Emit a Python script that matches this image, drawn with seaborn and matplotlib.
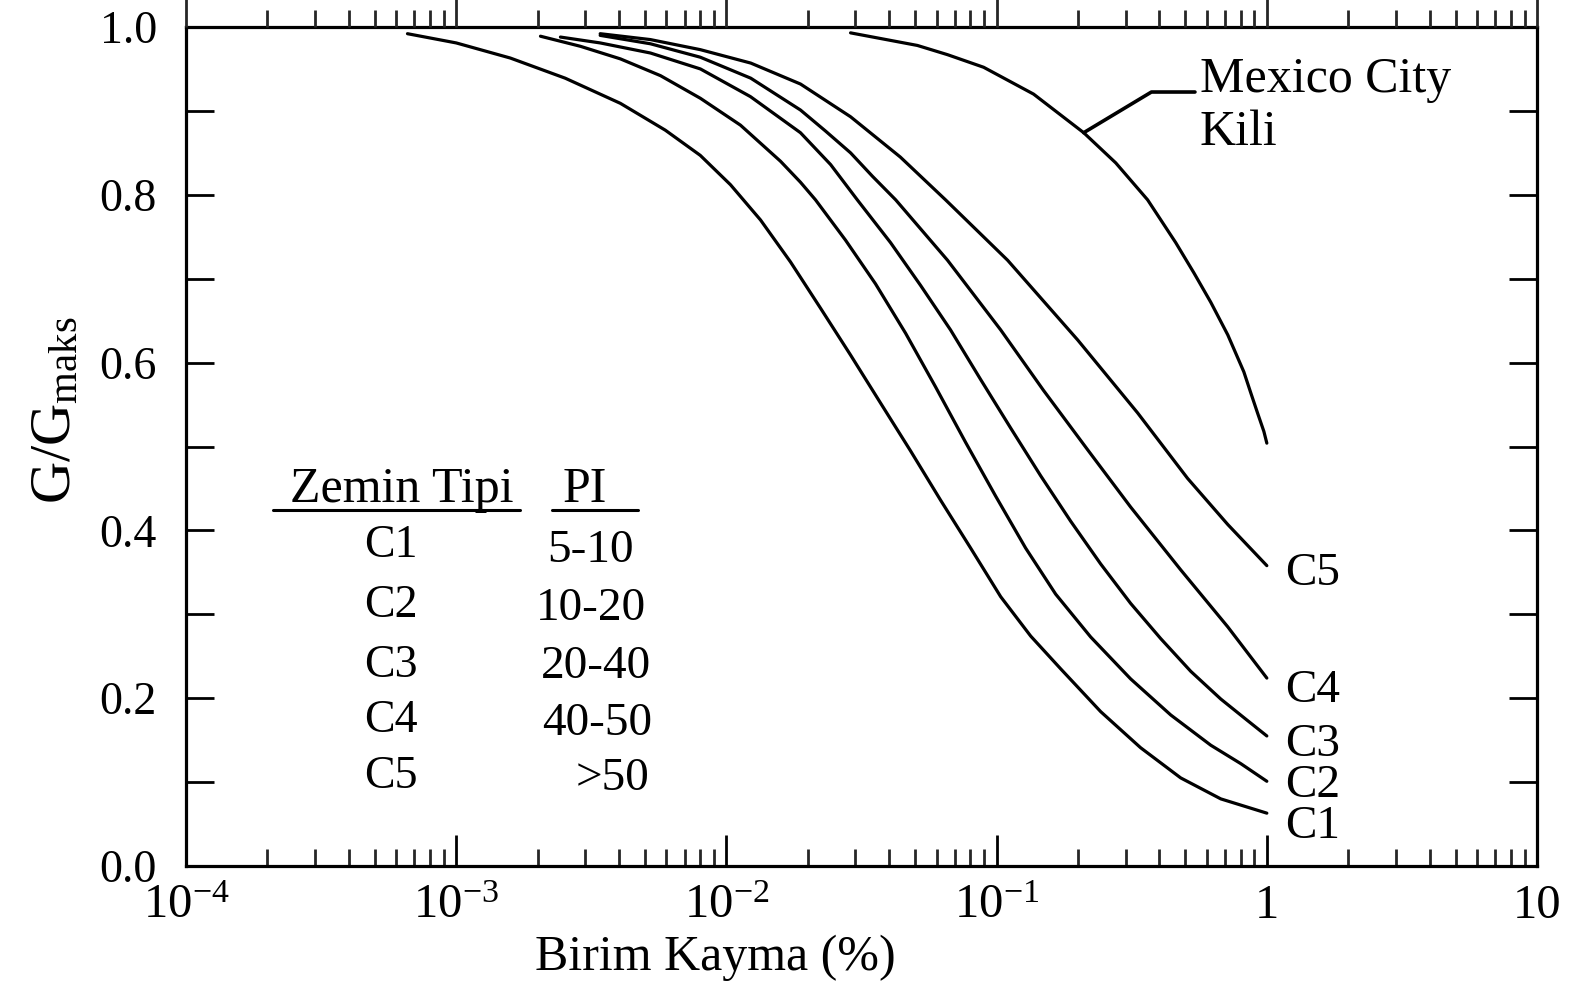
import numpy as np
import pandas as pd
import matplotlib
matplotlib.use("Agg")
import matplotlib.pyplot as plt
from matplotlib.ticker import FixedLocator, FixedFormatter, MultipleLocator, NullFormatter
import seaborn as sns

# Shear strain (%) and normalised shear modulus for each clay curve
c1_strain = [6.6e-4, 1.0e-3, 1.585e-3, 2.53e-3, 4.05e-3, 5.94e-3, 8.0e-3, 1.035e-2,
             1.337e-2, 1.726e-2, 2.228e-2, 2.88e-2, 3.715e-2, 4.797e-2, 6.203e-2,
             8.01e-2, 0.1035, 0.1337, 0.1726, 0.2427, 0.341, 0.480, 0.6755, 1.0]
c1_g = [0.992, 0.981, 0.963, 0.939, 0.909, 0.877, 0.847, 0.812, 0.770, 0.720, 0.665,
        0.609, 0.552, 0.495, 0.436, 0.379, 0.321, 0.274, 0.235, 0.184, 0.141, 0.105,
        0.080, 0.063]

c2_strain = [2.05e-3, 2.88e-3, 4.05e-3, 5.70e-3, 8.01e-3, 1.127e-2, 1.585e-2, 1.879e-2,
             2.136e-2, 2.758e-2, 3.56e-2, 4.603e-2, 5.943e-2, 7.674e-2, 9.91e-2, 0.128,
             0.1654, 0.2228, 0.3133, 0.441, 0.620, 0.801, 1.0]
c2_g = [0.989, 0.977, 0.962, 0.942, 0.915, 0.883, 0.840, 0.815, 0.794, 0.746, 0.694,
        0.635, 0.571, 0.505, 0.441, 0.379, 0.324, 0.273, 0.223, 0.180, 0.144, 0.122,
        0.101]

c3_strain = [2.43e-3, 3.41e-3, 5.23e-3, 8.01e-3, 1.227e-2, 1.879e-2, 2.43e-2, 3.05e-2,
             4.049e-2, 5.23e-2, 6.75e-2, 8.72e-2, 0.1127, 0.1456, 0.1879, 0.2427,
             0.3133, 0.4049, 0.5231, 0.6755, 0.836, 1.0]
c3_g = [0.988, 0.981, 0.969, 0.950, 0.917, 0.874, 0.836, 0.794, 0.743, 0.692, 0.639,
        0.580, 0.522, 0.465, 0.411, 0.360, 0.313, 0.271, 0.232, 0.199, 0.175, 0.155]

c4_strain = [3.41e-3, 5.23e-3, 8.0e-3, 1.23e-2, 1.88e-2, 2.326e-2, 2.88e-2, 3.472e-2,
             4.23e-2, 6.58e-2, 0.1035, 0.149, 0.2173, 0.313, 0.480, 0.717, 1.0]
c4_g = [0.990, 0.980, 0.964, 0.939, 0.901, 0.876, 0.850, 0.822, 0.794, 0.722, 0.639,
        0.567, 0.496, 0.428, 0.353, 0.285, 0.224]

c5_strain = [3.41e-3, 5.23e-3, 8.0e-3, 1.23e-2, 1.88e-2, 2.88e-2, 4.40e-2, 6.47e-2,
             0.1098, 0.1995, 0.3326, 0.509, 0.717, 1.0]
c5_g = [0.992, 0.985, 0.973, 0.957, 0.932, 0.893, 0.845, 0.794, 0.722, 0.627, 0.540,
        0.462, 0.407, 0.358]

mex_strain = [2.88e-2, 5.09e-2, 6.58e-2, 8.95e-2, 0.137, 0.210, 0.276, 0.362, 0.460,
              0.537, 0.620, 0.717, 0.822, 0.872, 0.926, 0.975, 1.0]
mex_g = [0.993, 0.978, 0.967, 0.952, 0.920, 0.874, 0.838, 0.794, 0.743, 0.707, 0.672,
         0.633, 0.589, 0.564, 0.539, 0.518, 0.504]

curve_names = ["C1", "C2", "C3", "C4", "C5"]
pi_ranges = ["5-10", "10-20", "20-40", "40-50", ">50"]
x_major = [1e-4, 1e-3, 1e-2, 1e-1, 1, 10]
x_labels = [r"$10^{-4}$", r"$10^{-3}$", r"$10^{-2}$", r"$10^{-1}$", "1", "10"]
y_major = [0.0, 0.2, 0.4, 0.6, 0.8, 1.0]
y_labels = ["0.0", "0.2", "0.4", "0.6", "0.8", "1.0"]

curves = {
    "C1": (c1_strain, c1_g), "C2": (c2_strain, c2_g), "C3": (c3_strain, c3_g),
    "C4": (c4_strain, c4_g), "C5": (c5_strain, c5_g), "Mexico": (mex_strain, mex_g),
}
df = pd.concat(
    [pd.DataFrame({"strain": s, "G": g, "curve": k}) for k, (s, g) in curves.items()],
    ignore_index=True,
)

sns.set_theme(style="ticks")
serif = ["Liberation Serif", "DejaVu Serif"]
plt.rcParams["font.family"] = serif
plt.rcParams["mathtext.fontset"] = "custom"
plt.rcParams["mathtext.rm"] = "Liberation Serif"
plt.rcParams["mathtext.it"] = "Liberation Serif:italic"
plt.rcParams["mathtext.bf"] = "Liberation Serif:bold"

fig = plt.figure(figsize=(15.7, 9.85), dpi=100)
fig.patch.set_facecolor("white")
ax = fig.add_axes([0.1185, 0.1208, 0.8605, 0.8518])
ax.set_facecolor("white")

sns.lineplot(data=df, x="strain", y="G", units="curve", estimator=None, sort=False,
             color="black", lw=2.3, ax=ax, legend=False)
for ln in ax.get_lines():
    ln.set_solid_joinstyle("round")
    ln.set_solid_capstyle("round")

ax.set_xscale("log")
ax.set_xlim(1e-4, 10)
ax.set_ylim(0.0, 1.0)

for sp in ax.spines.values():
    sp.set_linewidth(2.3)
    sp.set_color("black")

# x axis: decades with minor 2..9 ticks, pointing inward at the bottom
ax.xaxis.set_major_locator(FixedLocator(x_major))
ax.xaxis.set_major_formatter(FixedFormatter(x_labels))
minor = [m * 10.0 ** e for e in range(-4, 1) for m in range(2, 10)]
ax.xaxis.set_minor_locator(FixedLocator(minor))
ax.xaxis.set_minor_formatter(NullFormatter())
ax.tick_params(axis="x", which="major", direction="in", length=22, width=2.0,
               bottom=True, top=False, labelsize=35, pad=13, colors="black")
ax.tick_params(axis="x", which="minor", direction="in", length=12, width=2.0,
               bottom=True, top=False)

# y axis: labelled every 0.2, ticks every 0.1 on both sides
ax.yaxis.set_major_locator(FixedLocator(y_major))
ax.yaxis.set_major_formatter(FixedFormatter(y_labels))
ax.yaxis.set_minor_locator(MultipleLocator(0.1))
ax.tick_params(axis="y", which="both", direction="in", length=20, width=2.0,
               left=True, right=True, labelsize=33, pad=21, colors="black")

# top axis carries outward ticks only
top = ax.twiny()
top.set_xscale("log")
top.set_xlim(ax.get_xlim())
top.xaxis.set_major_locator(FixedLocator(x_major))
top.xaxis.set_minor_locator(FixedLocator(minor))
top.xaxis.set_major_formatter(NullFormatter())
top.xaxis.set_minor_formatter(NullFormatter())
top.tick_params(axis="x", which="major", direction="out", length=22, width=2.0)
top.tick_params(axis="x", which="minor", direction="out", length=12, width=2.0)
for sp in top.spines.values():
    sp.set_visible(False)

ax.set_xlabel("Birim Kayma (%)", fontsize=36, color="black")
ax.xaxis.set_label_coords(0.3916, -0.082)
ax.set_ylabel(r"G/G$_{\mathrm{maks}}$", fontsize=42, color="black")
ax.yaxis.set_label_coords(-0.0765, 0.543)

# curve end labels
end_label_y = [0.033, 0.082, 0.131, 0.195, 0.335]
for name, yy in zip(curve_names, end_label_y):
    ax.text(0.8135, yy, name, transform=ax.transAxes, fontsize=34,
            ha="left", va="baseline", color="black")

ax.text(0.7505, 0.9225, "Mexico City", transform=ax.transAxes, fontsize=36,
        ha="left", va="baseline", color="black")
ax.text(0.7505, 0.859, "Kili", transform=ax.transAxes, fontsize=36,
        ha="left", va="baseline", color="black")
ax.annotate("", xy=(mex_strain[5], mex_g[5]), xycoords="data",
            xytext=(0.7468, 0.9225), textcoords="axes fraction",
            arrowprops=dict(arrowstyle="-", lw=2.6, color="black", shrinkA=0, shrinkB=0,
                            connectionstyle="angle,angleA=180,angleB=31,rad=0"))

# soil type table
ax.text(0.1599, 0.4339, "Zemin Tipi", transform=ax.transAxes, fontsize=36,
        ha="center", va="baseline", color="black")
ax.text(0.2953, 0.4339, "PI", transform=ax.transAxes, fontsize=36,
        ha="center", va="baseline", color="black")
ax.plot([0.0644, 0.2472], [0.4243, 0.4243], transform=ax.transAxes, color="black", lw=2.2)
ax.plot([0.2709, 0.3346], [0.4243, 0.4243], transform=ax.transAxes, color="black", lw=2.2)
row_y = [0.3683, 0.2968, 0.2253, 0.1597, 0.0930]
pi_y = [0.3623, 0.2932, 0.2241, 0.1561, 0.0906]
pi_x = [0.299, 0.300, 0.3035, 0.3045, 0.3153]
for name, pi, ry, px, py in zip(curve_names, pi_ranges, row_y, pi_x, pi_y):
    ax.text(0.1517, ry, name, transform=ax.transAxes, fontsize=33,
            ha="center", va="baseline", color="black")
    ax.text(px, py, pi, transform=ax.transAxes, fontsize=34,
            ha="center", va="baseline", color="black")

fig.savefig("out.png", dpi=100, facecolor="white")
